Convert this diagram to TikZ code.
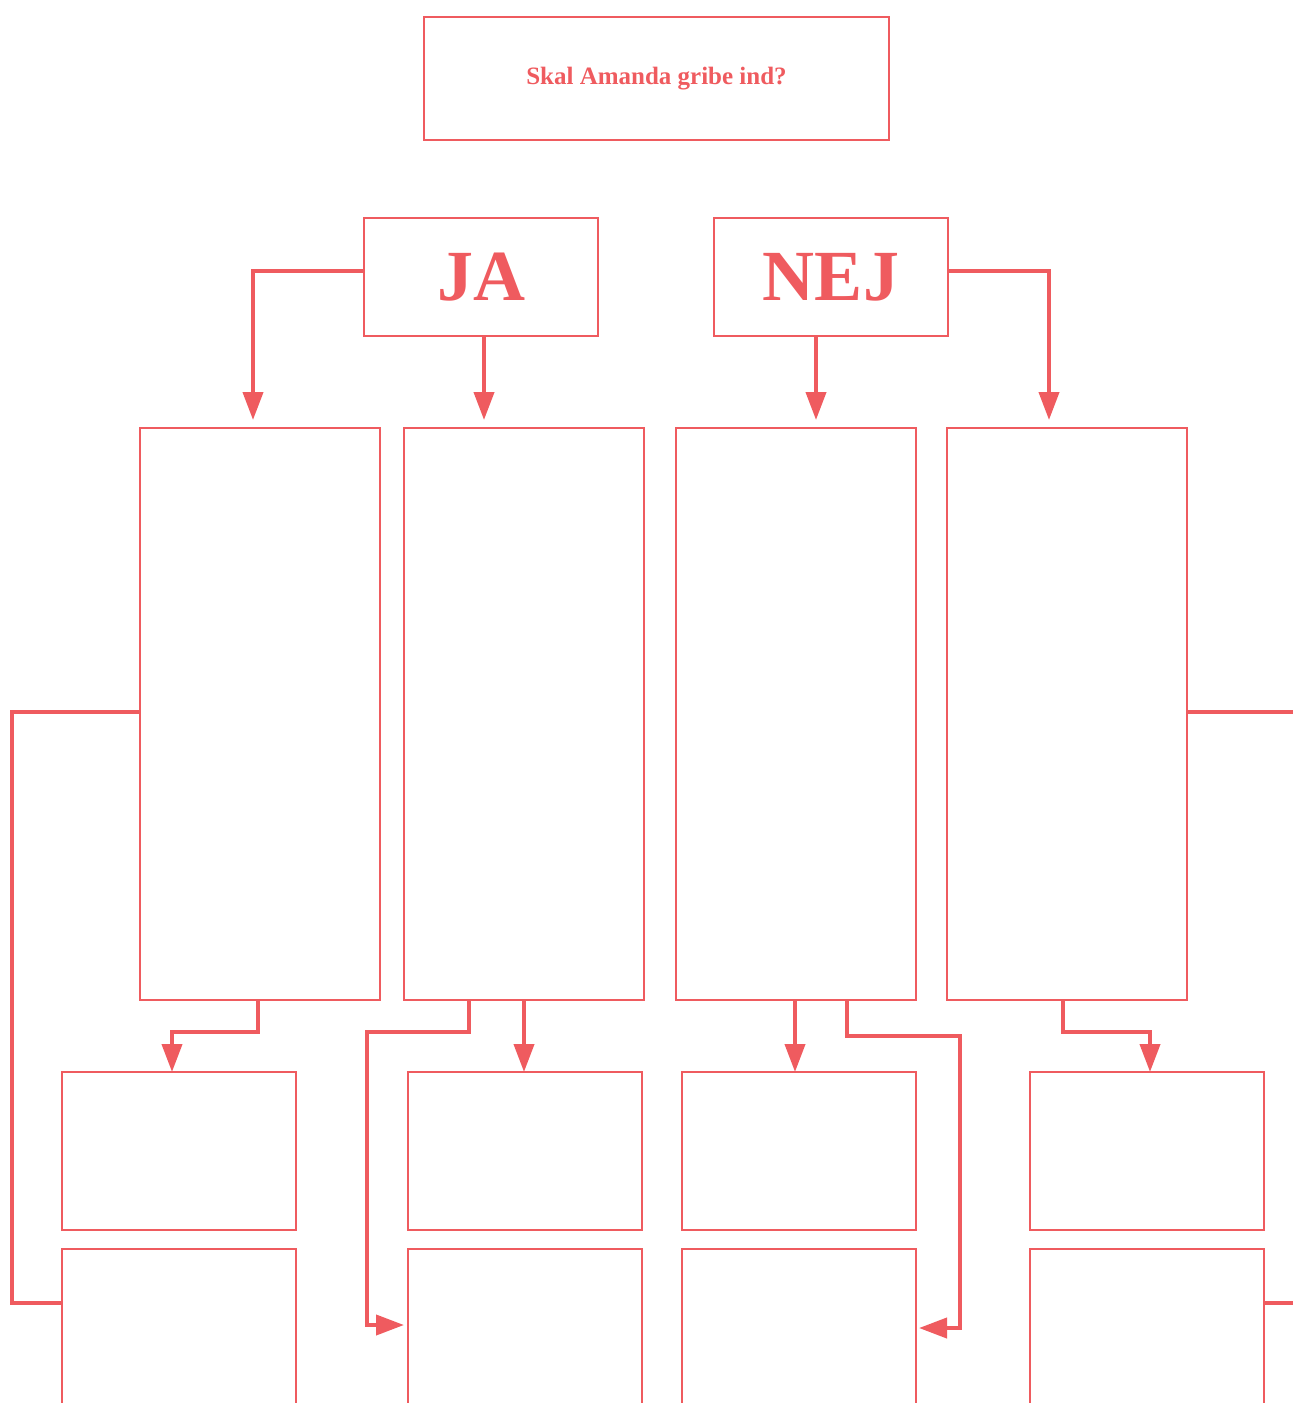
\documentclass[tikz,border=0pt]{standalone}
\usepackage{fontspec}
\setmainfont{Liberation Serif}
\usepackage{tikz}
\usetikzlibrary{arrows.meta,calc}
\definecolor{amandared}{HTML}{EF5B5F}

\begin{document}
\begin{tikzpicture}[x=1pt,y=-1pt,
  box/.style={draw=amandared,line width=2pt,inner sep=0pt,outer sep=0pt},
  arr/.style={draw=amandared,line width=4pt,-{Triangle[length=28pt,width=20pt]}},
  link/.style={draw=amandared,line width=4pt}]
\useasboundingbox (0,0) rectangle (1293,1403);
\clip (0,0) rectangle (1293,1403);
% question and answers
\node[box,minimum width=465,minimum height=123,text=amandared,font=\bfseries\fontsize{25}{25}\selectfont] (question) at (656.5,78.5) {Skal Amanda gribe ind?};
\node[box,minimum width=234,minimum height=118,text=amandared,font=\bfseries\fontsize{72}{72}\selectfont] (ja) at (481,277) {JA};
\node[box,minimum width=234,minimum height=118,text=amandared,font=\bfseries\fontsize{72}{72}\selectfont] (nej) at (831,277) {NEJ};
% tall boxes
\node[box,minimum width=240,minimum height=572] (m1) at (260,714) {};
\node[box,minimum width=240,minimum height=572] (m2) at (524,714) {};
\node[box,minimum width=240,minimum height=572] (m3) at (796,714) {};
\node[box,minimum width=240,minimum height=572] (m4) at (1067,714) {};
% lower boxes
\node[box,minimum width=234,minimum height=158] (b1) at (179,1151) {};
\node[box,minimum width=234,minimum height=158] (b2) at (525,1151) {};
\node[box,minimum width=234,minimum height=158] (b3) at (799,1151) {};
\node[box,minimum width=234,minimum height=158] (b4) at (1147,1151) {};
\node[box,minimum width=234,minimum height=240] (b5) at (179,1369) {};
\node[box,minimum width=234,minimum height=240] (b6) at (525,1369) {};
\node[box,minimum width=234,minimum height=240] (b7) at (799,1369) {};
\node[box,minimum width=234,minimum height=240] (b8) at (1147,1369) {};
\coordinate (edge) at (1293,0);
% arrows from the answers
\draw[arr,shorten >=8pt] ([yshift=6pt]ja.west) -| ([xshift=-7pt]m1.north);
\draw[arr,shorten >=8pt] ([xshift=3pt]ja.south) -- ([xshift=3pt]ja.south |- m2.north);
\draw[arr,shorten >=8pt] ([xshift=-15pt]nej.south) -- ([xshift=-15pt]nej.south |- m3.north);
\draw[arr,shorten >=8pt] ([yshift=6pt]nej.east) -| ([xshift=-18pt]m4.north);
% arrows from the tall boxes
\draw[arr] ([xshift=-2pt]m1.south) -- ++(0,32) -| ([xshift=-7pt]b1.north);
\draw[arr,shorten >=4pt] ([xshift=-55pt]m2.south) -- ++(0,32) -- ++(-102,0) |- ([yshift=-76pt]b6.north west);
\draw[arr] (m2.south) -- (m2.south |- b2.north);
\draw[arr] ([xshift=-1pt]m3.south) -- ([xshift=-1pt]m3.south |- b3.north);
\draw[arr,shorten >=3pt] ([xshift=51pt]m3.south) -- ++(0,36) -- ++(113,0) |- ([yshift=-79pt]b7.north east);
\draw[arr] ([xshift=-4pt]m4.south) -- ++(0,32) -| ([xshift=3pt]b4.north);
% side lines
\draw[link] ([yshift=2pt]m1.west) -- ++(-128,0) |- ([yshift=-54pt]b5.north west);
\draw[link] ([yshift=2pt]m4.east) -- ([yshift=2pt]m4.east -| edge);
\draw[link] ([yshift=-54pt]b8.north east) -- ([yshift=-54pt]b8.north east -| edge);
\end{tikzpicture}
\end{document}
